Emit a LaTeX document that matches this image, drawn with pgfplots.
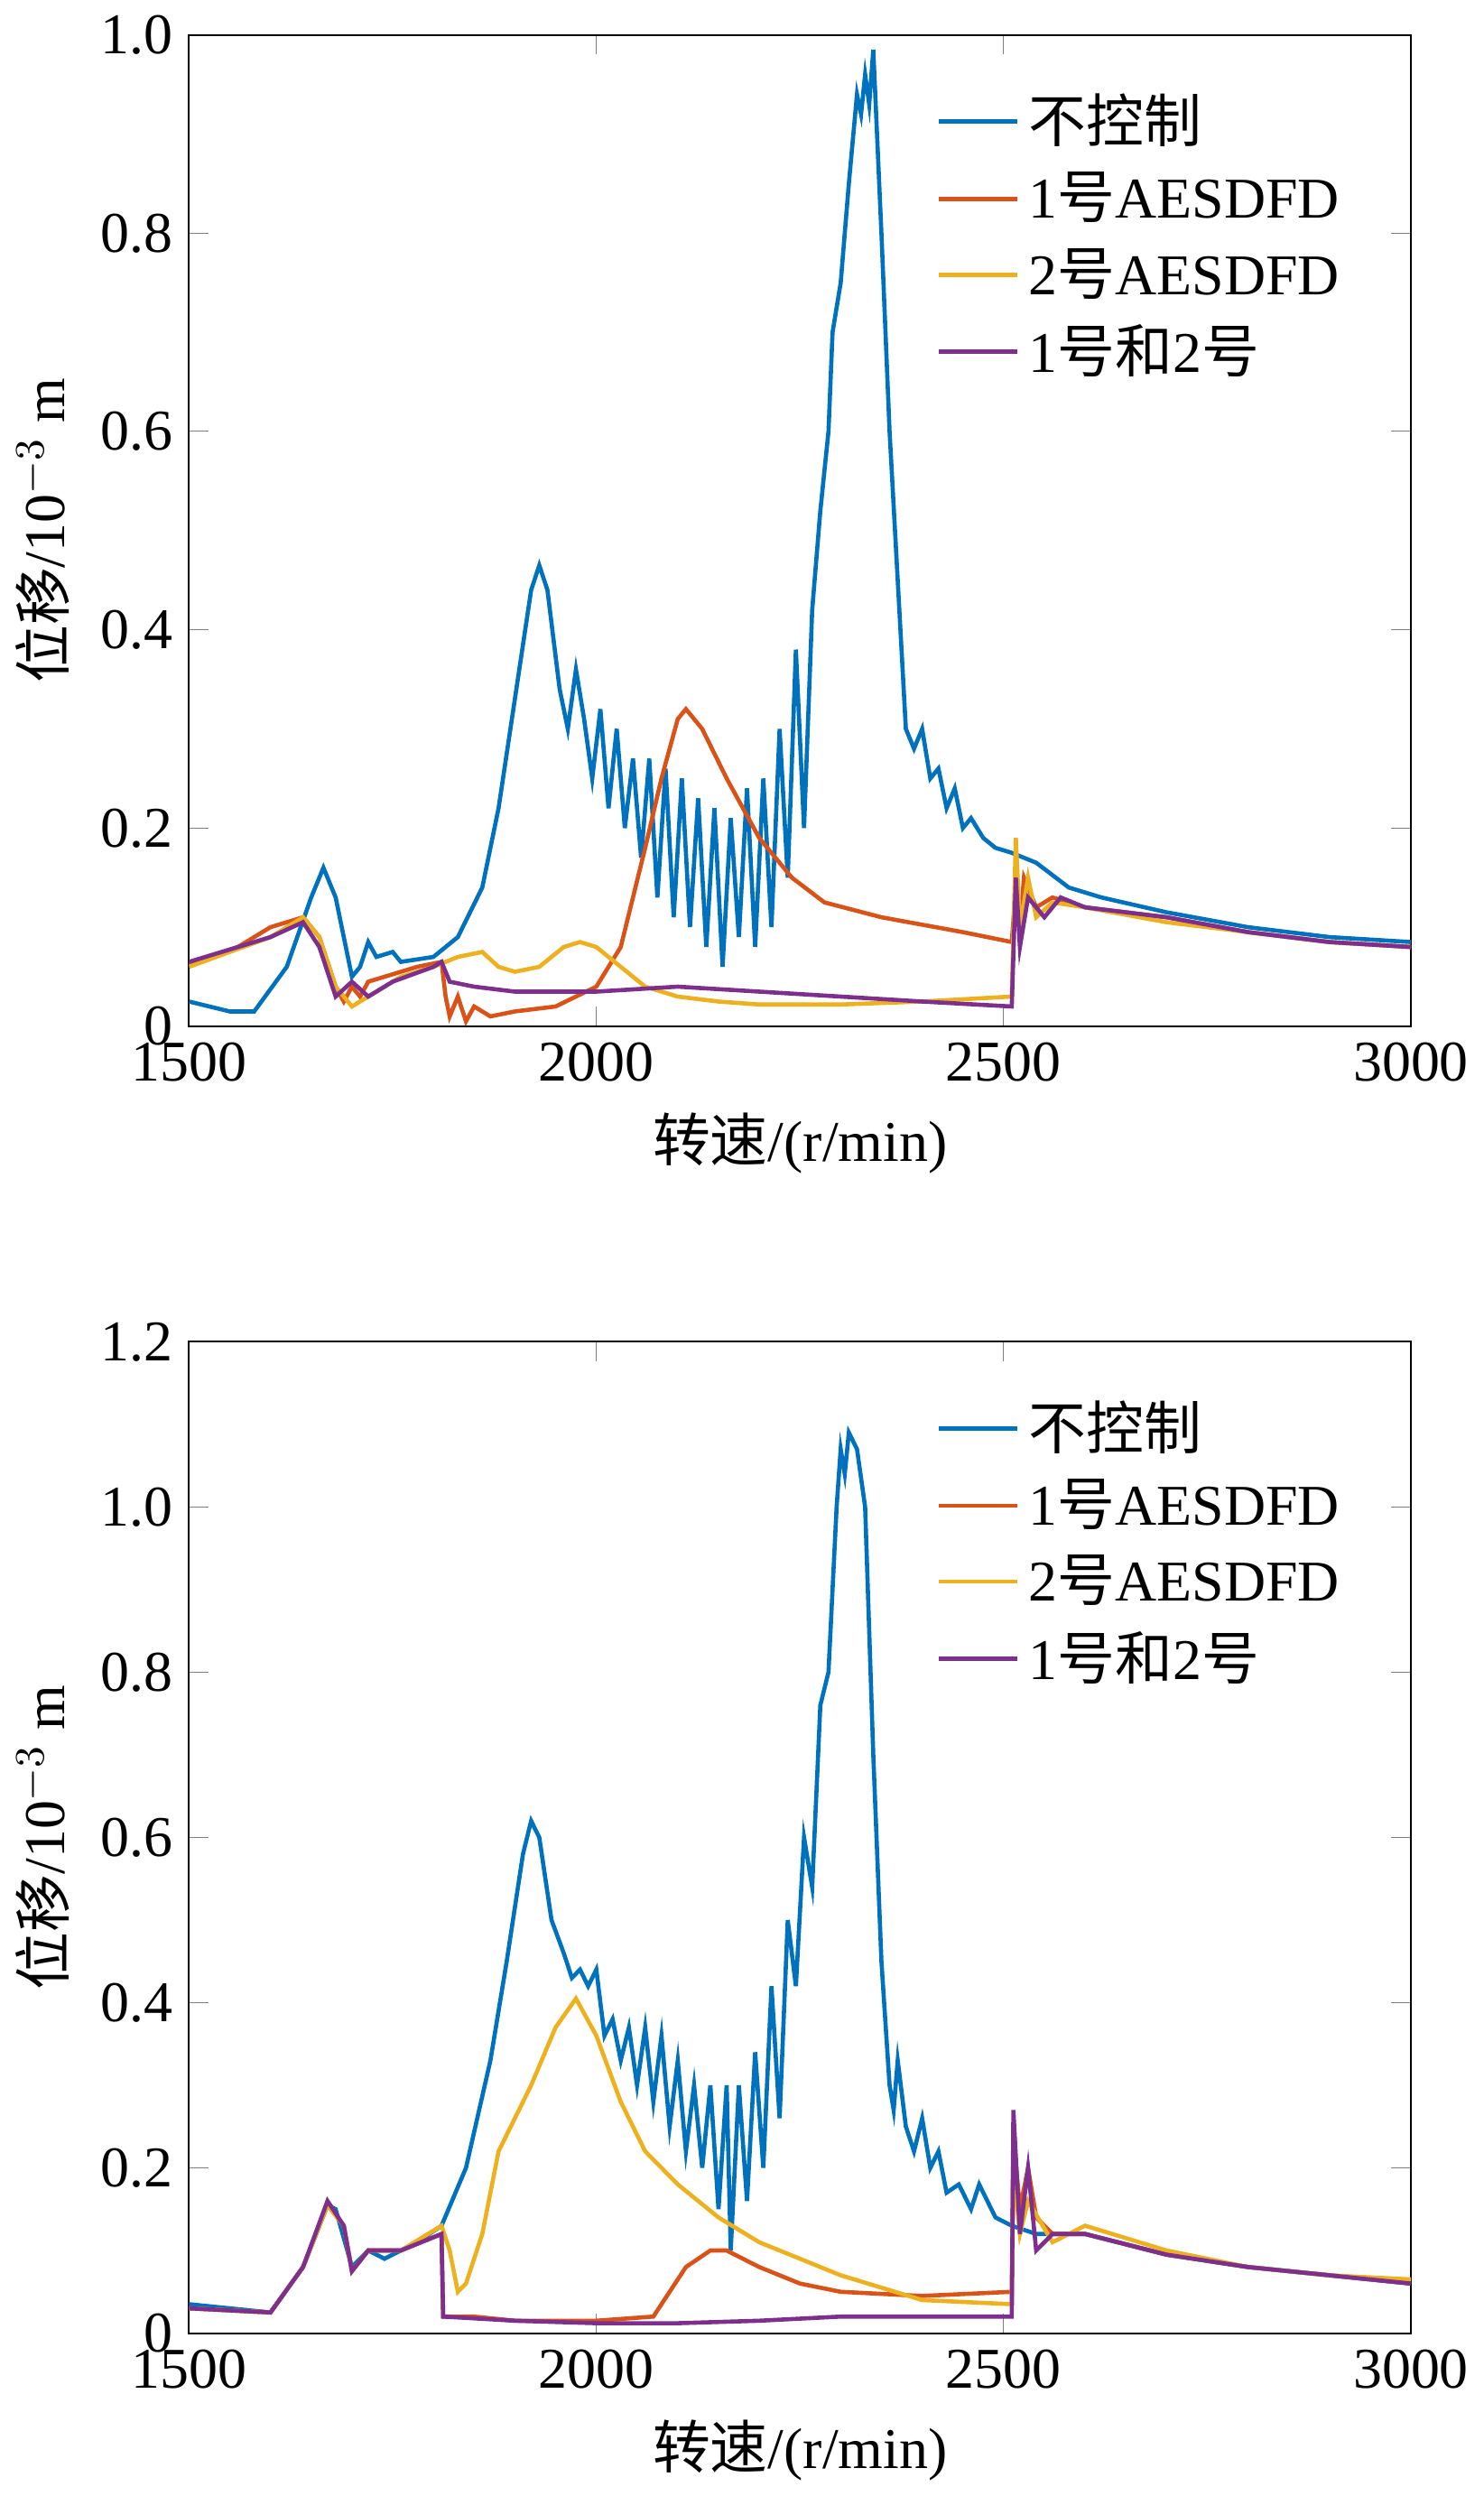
\documentclass[border=0pt]{standalone}
\usepackage{pgfplots}
\pgfplotsset{compat=1.18}
\usepackage{fontspec}
\setmainfont{Liberation Serif}
\newfontfamily\cjk{Noto Sans CJK SC}
\definecolor{c1}{HTML}{0072BD}
\definecolor{c2}{HTML}{D95319}
\definecolor{c3}{HTML}{EDB120}
\definecolor{c4}{HTML}{7E2F8E}
\pgfplotsset{myax/.style={width=265pt,height=215pt,scale only axis,xmin=1500,xmax=3000,ymin=0,
 xtick={1500,2000,2500,3000},tick align=inside,
 /pgf/number format/assume math mode=true,
 font=\fontsize{12.5}{15}\selectfont,
 xlabel={{\cjk 转速}/(r/min)},
 ylabel={{\cjk 位移}/10$^{-3}$ m},
 every axis plot/.append style={line width=0.9pt},
 legend style={draw=none,fill=none,at={(0.6,0.96)},anchor=north west,row sep=1pt},
 legend cell align=left,
 scaled ticks=false,
 xticklabel style={/pgf/number format/1000 sep={}}}}
\begin{document}
\begin{tikzpicture}
\begin{axis}[myax,name=top,ymax=1.0,ytick={0,0.2,0.4,0.6,0.8,1.0},yticklabels={0,0.2,0.4,0.6,0.8,1.0}]
\addplot[c1] coordinates {(1500,0.025)(1550,0.015)(1580,0.015)(1620,0.06)(1650,0.13)(1665,0.16)(1680,0.13)(1700,0.05)(1710,0.06)(1720,0.085)(1730,0.07)(1750,0.075)(1760,0.065)(1800,0.07)(1830,0.09)(1860,0.14)(1880,0.22)(1900,0.33)(1920,0.44)(1930,0.465)(1940,0.44)(1955,0.34)(1965,0.3)(1975,0.36)(1985,0.31)(1995,0.25)(2005,0.32)(2015,0.22)(2025,0.3)(2035,0.2)(2045,0.27)(2055,0.17)(2065,0.27)(2075,0.13)(2085,0.26)(2095,0.11)(2105,0.25)(2115,0.1)(2125,0.23)(2135,0.08)(2145,0.22)(2155,0.06)(2165,0.21)(2175,0.09)(2185,0.24)(2195,0.08)(2205,0.25)(2215,0.1)(2225,0.3)(2235,0.15)(2245,0.38)(2255,0.2)(2265,0.42)(2275,0.52)(2285,0.6)(2290,0.7)(2300,0.75)(2310,0.85)(2320,0.94)(2325,0.92)(2330,0.96)(2335,0.93)(2340,0.985)(2350,0.8)(2360,0.6)(2370,0.45)(2380,0.3)(2390,0.28)(2400,0.3)(2410,0.25)(2420,0.26)(2430,0.22)(2440,0.24)(2450,0.2)(2460,0.21)(2475,0.19)(2490,0.18)(2510,0.175)(2540,0.165)(2580,0.14)(2620,0.13)(2700,0.115)(2800,0.1)(2900,0.09)(3000,0.085)};
\addlegendentry{\cjk 不控制}
\addplot[c2] coordinates {(1500,0.062)(1560,0.08)(1600,0.1)(1640,0.11)(1660,0.09)(1680,0.04)(1690,0.025)(1700,0.04)(1710,0.03)(1720,0.045)(1740,0.05)(1780,0.06)(1810,0.065)(1815,0.03)(1820,0.01)(1830,0.03)(1840,0.005)(1850,0.02)(1870,0.01)(1900,0.015)(1950,0.02)(2000,0.04)(2030,0.08)(2060,0.18)(2080,0.25)(2100,0.31)(2110,0.32)(2130,0.3)(2160,0.25)(2200,0.19)(2240,0.15)(2280,0.125)(2350,0.11)(2450,0.095)(2510,0.085)(2515,0.14)(2520,0.1)(2525,0.15)(2540,0.12)(2560,0.13)(2600,0.12)(2700,0.11)(2800,0.095)(2900,0.085)(3000,0.08)};
\addlegendentry{1{\cjk 号}AESDFD}
\addplot[c3] coordinates {(1500,0.06)(1600,0.09)(1640,0.11)(1660,0.09)(1680,0.04)(1700,0.02)(1720,0.03)(1760,0.05)(1800,0.06)(1830,0.07)(1860,0.075)(1880,0.06)(1900,0.055)(1930,0.06)(1960,0.08)(1980,0.085)(2000,0.08)(2030,0.06)(2060,0.04)(2100,0.03)(2150,0.025)(2200,0.022)(2300,0.022)(2400,0.025)(2510,0.03)(2515,0.19)(2520,0.1)(2530,0.15)(2540,0.11)(2560,0.125)(2600,0.12)(2700,0.105)(2800,0.095)(2900,0.085)(3000,0.08)};
\addlegendentry{2{\cjk 号}AESDFD}
\addplot[c4] coordinates {(1500,0.065)(1600,0.09)(1640,0.105)(1660,0.08)(1680,0.03)(1700,0.045)(1720,0.03)(1750,0.045)(1800,0.06)(1810,0.065)(1820,0.045)(1850,0.04)(1900,0.035)(2000,0.035)(2100,0.04)(2200,0.035)(2300,0.03)(2400,0.025)(2510,0.02)(2515,0.15)(2520,0.08)(2530,0.13)(2550,0.11)(2570,0.13)(2600,0.12)(2700,0.11)(2800,0.095)(2900,0.085)(3000,0.08)};
\addlegendentry{1{\cjk 号和}2{\cjk 号}}
\node[font=\fontsize{12.5}{15}\selectfont] at (rel axis cs:0.5,0) [yshift=-46pt] {(a) {\cjk 风扇盘}};
\end{axis}
\begin{axis}[myax,at={(top.south west)},anchor=north west,yshift=-68.4pt,ymax=1.2,ytick={0,0.2,0.4,0.6,0.8,1.0,1.2},yticklabels={0,0.2,0.4,0.6,0.8,1.0,1.2}]
\addplot[c1] coordinates {(1500,0.035)(1550,0.03)(1600,0.025)(1640,0.08)(1670,0.155)(1680,0.15)(1700,0.08)(1720,0.1)(1740,0.09)(1780,0.11)(1810,0.13)(1840,0.2)(1870,0.33)(1890,0.45)(1910,0.58)(1920,0.62)(1930,0.6)(1945,0.5)(1960,0.46)(1970,0.43)(1980,0.44)(1990,0.42)(2000,0.44)(2010,0.36)(2020,0.38)(2030,0.33)(2040,0.37)(2050,0.3)(2060,0.37)(2070,0.28)(2080,0.36)(2090,0.25)(2100,0.33)(2110,0.22)(2120,0.3)(2130,0.2)(2140,0.3)(2150,0.15)(2160,0.3)(2165,0.1)(2175,0.3)(2185,0.16)(2195,0.34)(2205,0.2)(2215,0.42)(2225,0.26)(2235,0.5)(2245,0.42)(2255,0.6)(2265,0.54)(2275,0.76)(2285,0.8)(2295,1.0)(2300,1.07)(2305,1.04)(2310,1.09)(2320,1.07)(2330,1.0)(2340,0.7)(2350,0.45)(2360,0.3)(2365,0.27)(2370,0.33)(2380,0.25)(2390,0.22)(2400,0.26)(2410,0.2)(2420,0.22)(2430,0.17)(2445,0.18)(2460,0.15)(2470,0.18)(2490,0.14)(2510,0.13)(2540,0.12)(2600,0.12)(2700,0.095)(2800,0.08)(2900,0.07)(3000,0.06)};
\addlegendentry{\cjk 不控制}
\addplot[c2] coordinates {(1500,0.03)(1600,0.025)(1640,0.08)(1670,0.155)(1690,0.13)(1700,0.075)(1720,0.1)(1760,0.1)(1810,0.12)(1812,0.02)(1850,0.02)(1900,0.015)(2000,0.015)(2070,0.02)(2090,0.05)(2110,0.08)(2140,0.1)(2160,0.1)(2200,0.08)(2250,0.06)(2300,0.05)(2400,0.045)(2510,0.05)(2512,0.24)(2520,0.15)(2530,0.2)(2540,0.14)(2560,0.12)(2600,0.12)(2700,0.095)(2800,0.08)(2900,0.07)(3000,0.06)};
\addlegendentry{1{\cjk 号}AESDFD}
\addplot[c3] coordinates {(1500,0.03)(1600,0.025)(1640,0.08)(1670,0.155)(1690,0.13)(1700,0.075)(1720,0.1)(1760,0.1)(1810,0.13)(1820,0.1)(1830,0.05)(1840,0.06)(1860,0.12)(1880,0.22)(1900,0.26)(1920,0.3)(1950,0.37)(1975,0.405)(2000,0.36)(2030,0.28)(2060,0.22)(2100,0.18)(2150,0.14)(2200,0.11)(2300,0.07)(2400,0.04)(2510,0.035)(2512,0.2)(2520,0.12)(2530,0.16)(2560,0.11)(2600,0.13)(2700,0.1)(2800,0.08)(2900,0.07)(3000,0.065)};
\addlegendentry{2{\cjk 号}AESDFD}
\addplot[c4] coordinates {(1500,0.03)(1600,0.025)(1640,0.08)(1670,0.16)(1690,0.13)(1700,0.075)(1720,0.1)(1760,0.1)(1810,0.12)(1812,0.02)(1900,0.015)(2000,0.012)(2100,0.012)(2200,0.015)(2300,0.02)(2400,0.02)(2510,0.02)(2512,0.27)(2520,0.12)(2530,0.2)(2540,0.1)(2560,0.12)(2600,0.12)(2700,0.095)(2800,0.08)(2900,0.07)(3000,0.06)};
\addlegendentry{1{\cjk 号和}2{\cjk 号}}
\node[font=\fontsize{12.5}{15}\selectfont] at (rel axis cs:0.5,0) [yshift=-48pt] {(b) {\cjk 涡轮盘}};
\end{axis}
\end{tikzpicture}
\end{document}
